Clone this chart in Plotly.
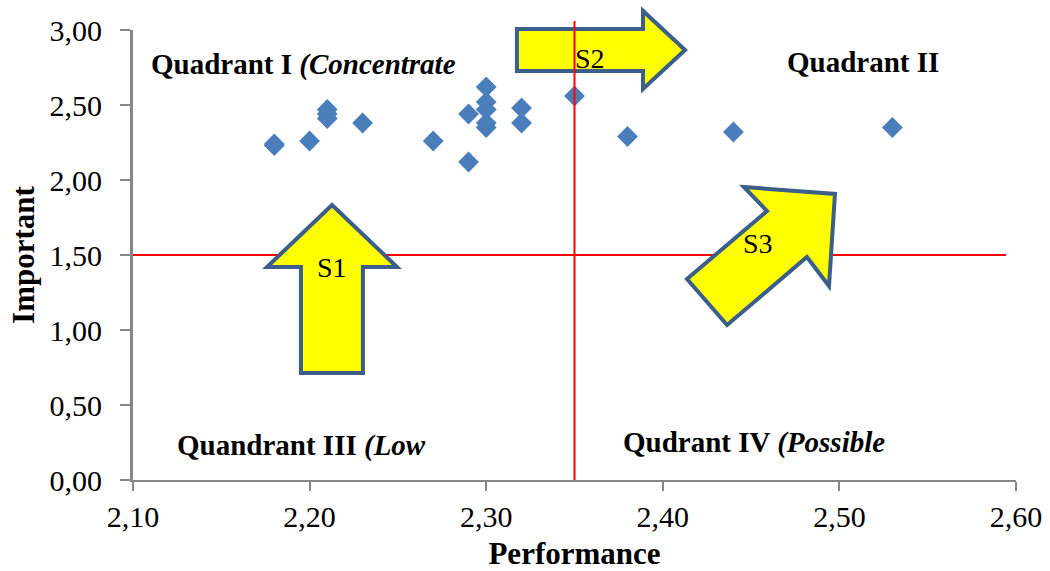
import plotly.graph_objects as go

# ---- data ----
performance = [2.18, 2.18, 2.20, 2.21, 2.21, 2.21, 2.23, 2.27, 2.29, 2.29,
               2.30, 2.30, 2.30, 2.30, 2.30, 2.32, 2.32, 2.35, 2.38, 2.44, 2.53]
important = [2.23, 2.24, 2.26, 2.47, 2.44, 2.41, 2.38, 2.26, 2.44, 2.12,
             2.62, 2.52, 2.47, 2.38, 2.35, 2.48, 2.38, 2.56, 2.29, 2.32, 2.35]

x_ticks = [2.10, 2.20, 2.30, 2.40, 2.50, 2.60]
y_ticks = [0.00, 0.50, 1.00, 1.50, 2.00, 2.50, 3.00]
perf_mid = 2.35
imp_mid = 1.50

XR = [2.10, 2.60]
YR = [0.0, 3.0]

# arrow outlines (decorations), in data units
arrow_s1 = [(2.2127, 1.833), (2.2495, 1.42), (2.2302, 1.42), (2.2302, 0.713),
            (2.1951, 0.713), (2.1951, 1.42), (2.1759, 1.42)]
arrow_s2 = [(2.3174, 3.007), (2.3888, 3.007), (2.3888, 3.127), (2.4126, 2.867),
            (2.3888, 2.607), (2.3888, 2.727), (2.3174, 2.727)]
arrow_s3 = [(2.446, 1.953), (2.4975, 1.907), (2.4941, 1.293), (2.4816, 1.487),
            (2.4364, 1.033), (2.4137, 1.34), (2.459, 1.793)]
arrow_labels = [("S1", 2.2127, 1.42), ("S2", 2.3588, 2.813), ("S3", 2.4539, 1.58)]

FONT = "Liberation Serif, Times New Roman, serif"
AXIS_GRAY = "#878787"


def px(x):
    return (x - XR[0]) / (XR[1] - XR[0])


def py(y):
    return (y - YR[0]) / (YR[1] - YR[0])


def poly_path(pts):
    s = "M " + " L ".join(f"{px(x):.5f},{py(y):.5f}" for x, y in pts) + " Z"
    return s


fig = go.Figure()
fig.add_trace(go.Scatter(
    x=performance, y=important, mode="markers",
    marker=dict(symbol="diamond", size=16, color="#4A7EBB", line=dict(width=0)),
    cliponaxis=False, showlegend=False,
))

shapes = []
# horizontal red line (under arrows)
shapes.append(dict(type="line", xref="paper", yref="paper",
                   x0=0, x1=0.9887, y0=py(imp_mid), y1=py(imp_mid),
                   line=dict(color="#FF0000", width=2), layer="above"))
for pts in (arrow_s1, arrow_s3, arrow_s2):
    shapes.append(dict(type="path", xref="paper", yref="paper", path=poly_path(pts),
                       fillcolor="#FFFF00", line=dict(color="#3B5E8B", width=4),
                       layer="above"))
# vertical red line (above S2 arrow)
shapes.append(dict(type="line", xref="paper", yref="paper",
                   x0=px(perf_mid), x1=px(perf_mid), y0=0, y1=1.02,
                   line=dict(color="#FF0000", width=2), layer="above"))

annotations = []
for txt, x, y in arrow_labels:
    annotations.append(dict(x=x, y=y, xref="x", yref="y", text=txt, showarrow=False,
                            font=dict(family=FONT, size=28, color="black"),
                            xanchor="center", yanchor="middle"))

quad = [
    ("<b>Quadrant I <i>(Concentrate</i></b>", 2.1108, 2.767),
    ("<b>Quadrant II</b>", 2.471, 2.787),
    ("<b>Quandrant III <i>(Low</i></b>", 2.1255, 0.227),
    ("<b>Qudrant IV <i>(Possible</i></b>", 2.378, 0.247),
]
for txt, x, y in quad:
    annotations.append(dict(x=x, y=y, xref="x", yref="y", text=txt, showarrow=False,
                            font=dict(family=FONT, size=29, color="black"),
                            xanchor="left", yanchor="middle", xshift=-3))

fig.update_layout(
    width=1050, height=571,
    margin=dict(l=133, r=34, t=30, b=91),
    paper_bgcolor="white", plot_bgcolor="white",
    separators=",.",
    font=dict(family=FONT, color="black"),
    shapes=shapes, annotations=annotations,
    xaxis=dict(range=XR, tickvals=x_ticks, tickformat=".2f", automargin=False,
               showgrid=False, zeroline=False, showline=True,
               linecolor=AXIS_GRAY, linewidth=2, ticks="outside", ticklen=9,
               tickcolor=AXIS_GRAY, tickwidth=2,
               tickfont=dict(family=FONT, size=30, color="black"),
               title=dict(text="<b>Performance</b>", font=dict(family=FONT, size=31), standoff=12)),
    yaxis=dict(range=YR, tickvals=y_ticks, tickformat=".2f", automargin=False,
               showgrid=False, zeroline=False, showline=True,
               linecolor=AXIS_GRAY, linewidth=3, ticks="outside", ticklen=10,
               tickcolor=AXIS_GRAY, tickwidth=2, ticklabelstandoff=12,
               tickfont=dict(family=FONT, size=30, color="black"),
               title=dict(text="<b>Important</b>", font=dict(family=FONT, size=31), standoff=6)),
)

fig.write_html("out.html", config={"displayModeBar": False},
               post_script="document.body.style.margin='0';document.body.style.overflow='hidden';")
